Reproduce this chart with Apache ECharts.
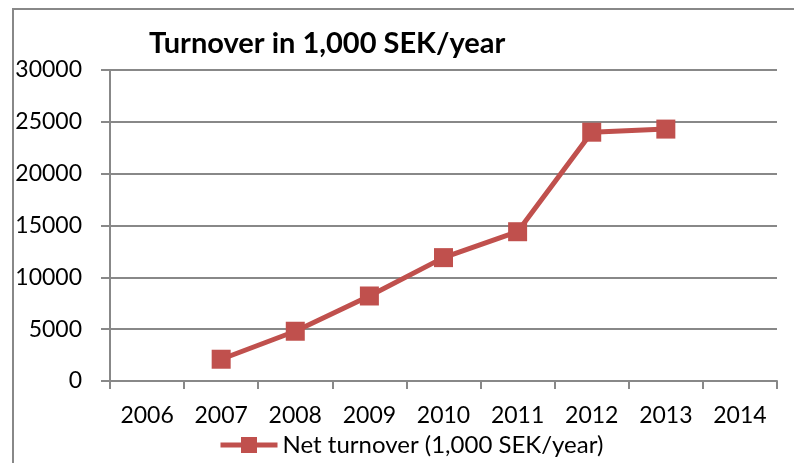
<!DOCTYPE html>
<html>
<head>
<meta charset="utf-8">
<script src="https://cdn.jsdelivr.net/npm/echarts@6/dist/echarts.min.js"></script>
<style>
  html, body { margin: 0; padding: 0; background: #fff; }
  #chart { width: 794px; height: 463px; }
</style>
</head>
<body>
<div id="chart"></div>
<script>
var years = ["2006", "2007", "2008", "2009", "2010", "2011", "2012", "2013", "2014"];
var netTurnover = [null, 2100, 4800, 8200, 11900, 14400, 24000, 24300, null];
var yTicks = { min: 0, max: 30000, interval: 5000 };

var myChart = echarts.init(document.getElementById("chart"));
var option = {
  animation: false,
  textStyle: { fontFamily: "Lato" },
  title: {
    text: "Turnover in 1,000 SEK/year",
    left: 144,
    top: 24,
    textStyle: { fontFamily: "Lato", fontWeight: "bold", fontSize: 29, color: "#000" },
  },
  graphic: [
    {
      type: "rect",
      shape: { x: 13, y: 9, width: 820, height: 520 },
      style: { fill: null, stroke: "#888888", lineWidth: 2 },
      silent: true,
    },
  ],
  grid: { left: 110, right: 17, top: 70, bottom: 82 },
  legend: {
    bottom: 1,
    left: 213,
    itemWidth: 57,
    itemHeight: 20,
    itemGap: 4,
    lineStyle: { width: 5 },
    textStyle: { fontFamily: "Lato", fontSize: 24, color: "#000" },
    data: ["Net turnover (1,000 SEK/year)"],
  },
  xAxis: {
    type: "category",
    data: years,
    boundaryGap: true,
    axisLine: { lineStyle: { color: "#888888", width: 2 } },
    axisTick: { show: true, alignWithLabel: false, length: 8, lineStyle: { color: "#888888", width: 2 } },
    axisLabel: { color: "#000", fontSize: 23, margin: 23, interval: 0 },
    splitLine: { show: false },
  },
  yAxis: {
    type: "value",
    min: yTicks.min,
    max: yTicks.max,
    interval: yTicks.interval,
    axisLine: { show: true, lineStyle: { color: "#888888", width: 2 } },
    axisTick: { show: true, length: 9, lineStyle: { color: "#888888", width: 2 } },
    axisLabel: {
      color: "#000",
      fontSize: 23,
      margin: 28,
      formatter: function (value) {
        return String(value);
      },
    },
    splitLine: { show: true, lineStyle: { color: "#888888", width: 2 } },
  },
  series: [
    {
      name: "Net turnover (1,000 SEK/year)",
      type: "line",
      data: netTurnover,
      symbol: "rect",
      symbolSize: 19,
      connectNulls: false,
      lineStyle: { color: "#C0504D", width: 5 },
      itemStyle: { color: "#C0504D", borderColor: "#C0504D", borderWidth: 0 },
    },
  ],
};
myChart.setOption(option, true);
</script>
</body>
</html>
